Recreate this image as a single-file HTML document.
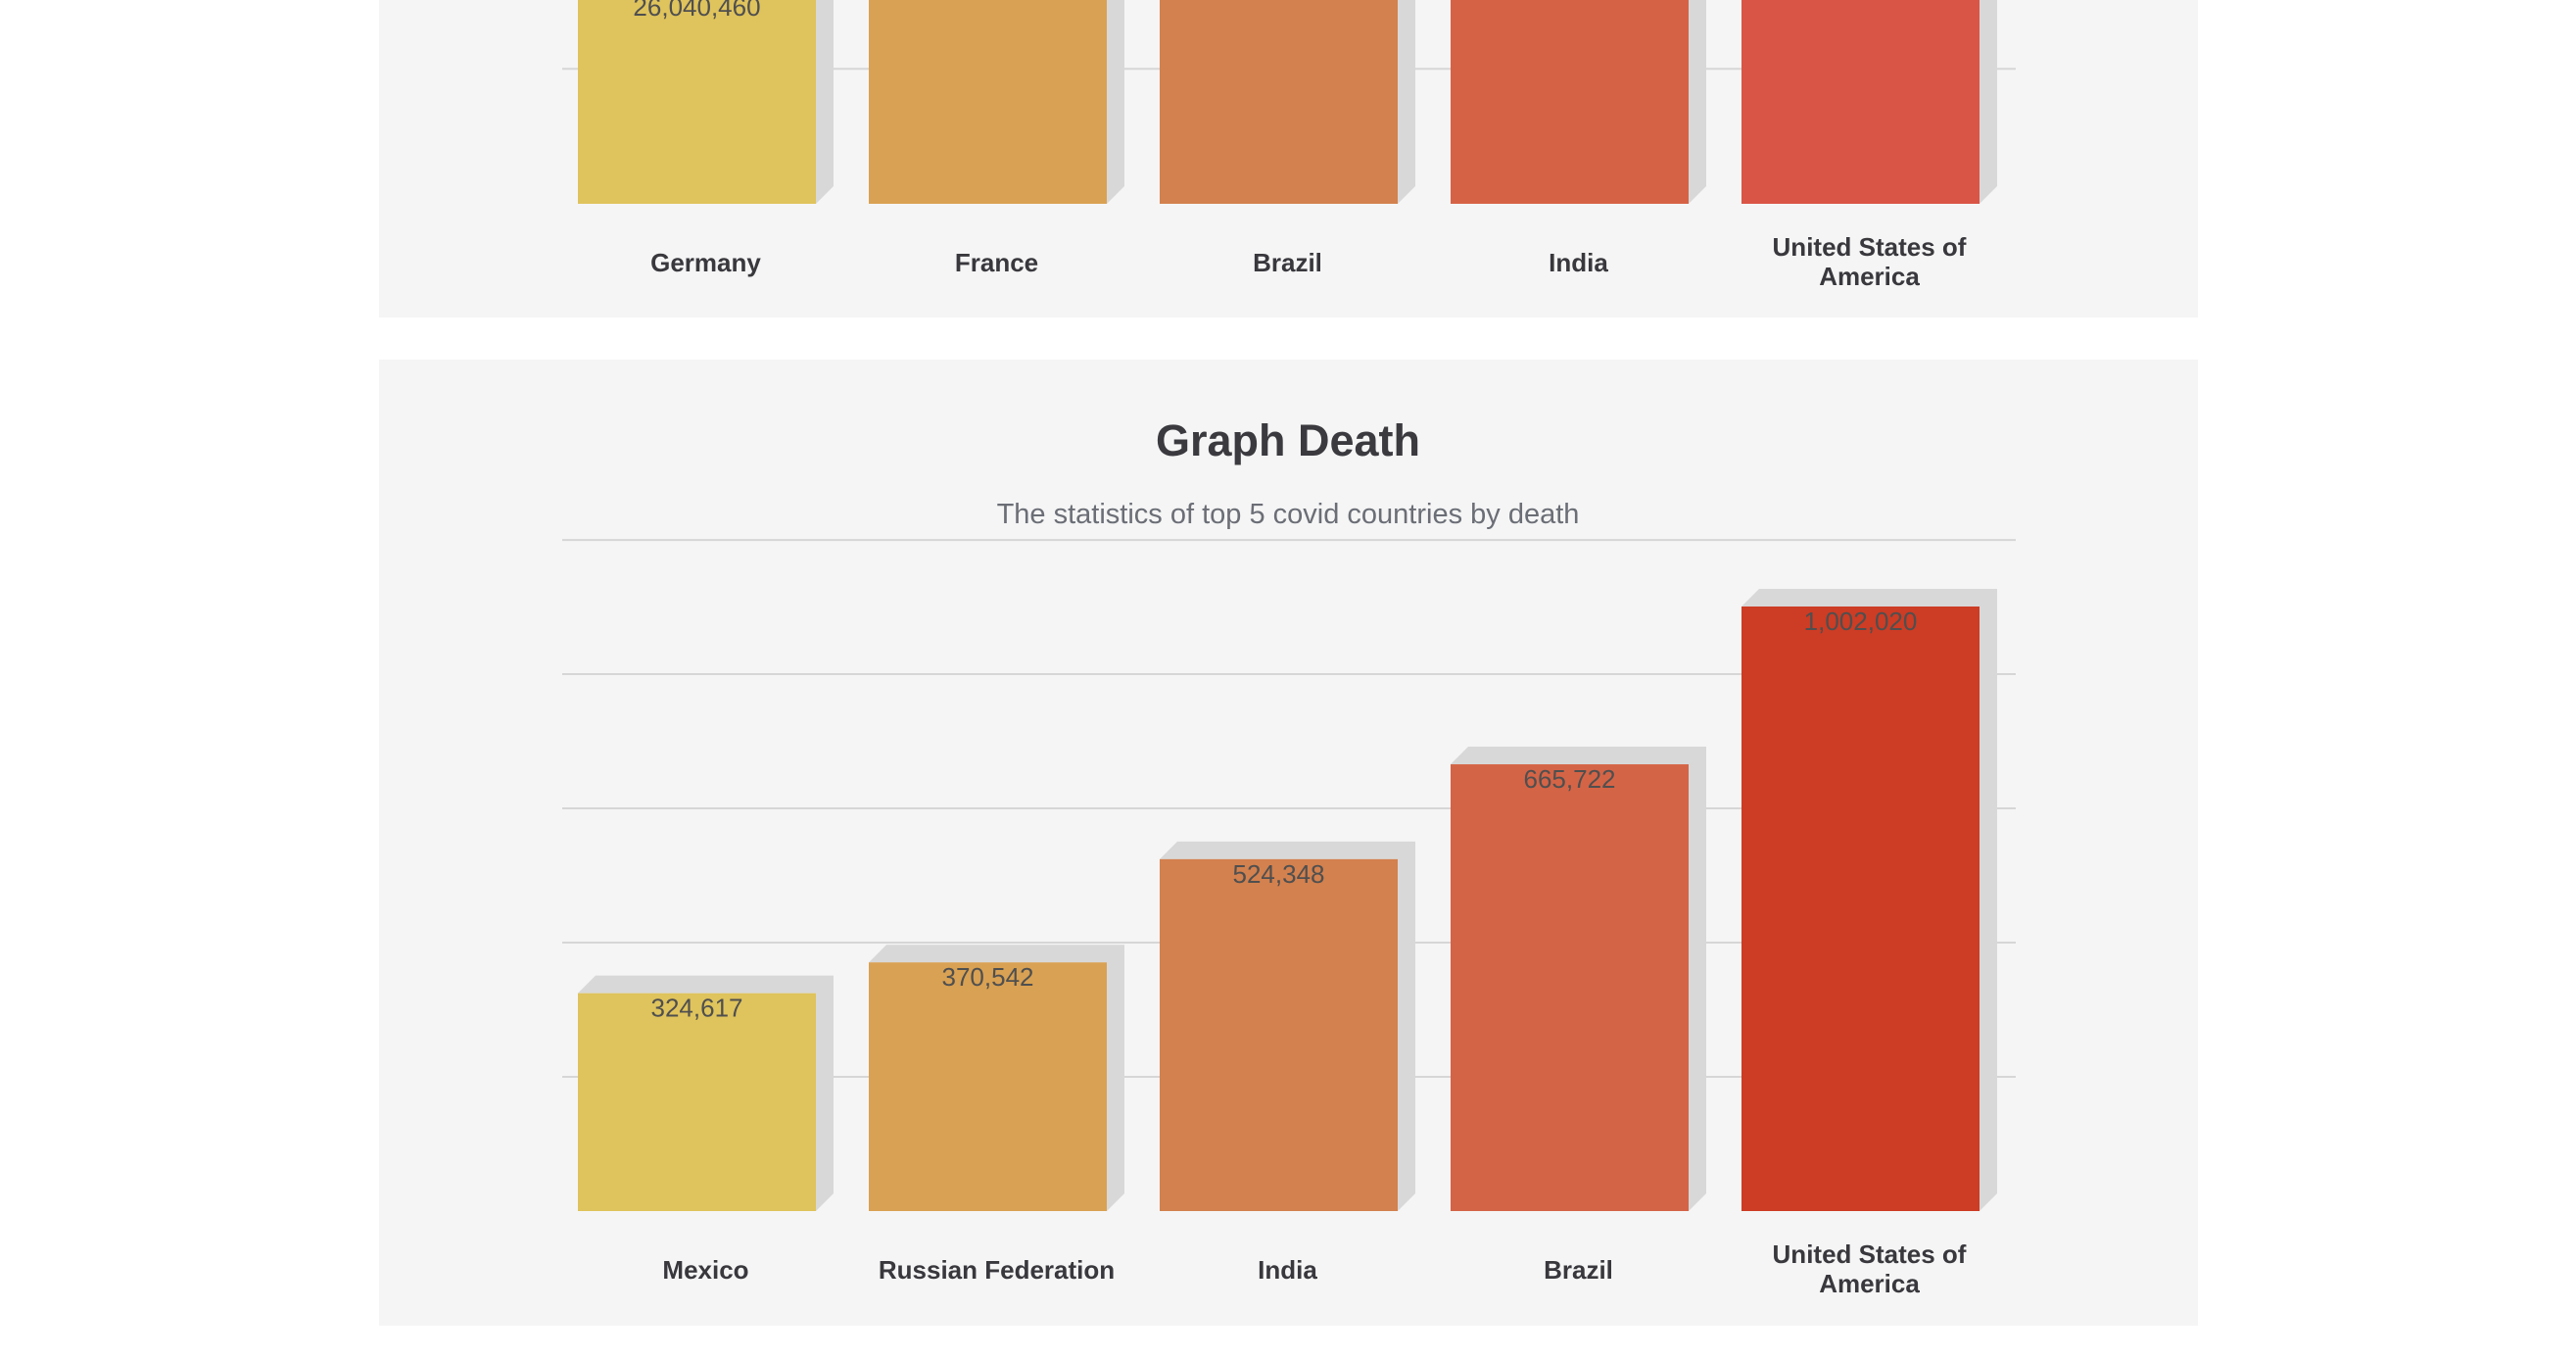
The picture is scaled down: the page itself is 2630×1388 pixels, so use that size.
<!DOCTYPE html>
<html><head><meta charset="utf-8"><style>
html,body{margin:0;padding:0;background:#fff;}
svg{display:block;font-family:"Liberation Sans",Arial,sans-serif;}
</style></head><body>
<svg id="chart" width="2630" height="1388" viewBox="0 0 2630 1388">
<rect x="387" y="-10" width="1857" height="334" fill="#f5f5f5"/>
<rect x="387" y="367" width="1857" height="986" fill="#f5f5f5"/>
<text x="1315" y="465" text-anchor="middle" font-size="45" font-weight="bold" fill="#3a3a3f">Graph Death</text>
<text x="1315" y="534" text-anchor="middle" font-size="29" fill="#6b6e76">The statistics of top 5 covid countries by death</text>
<g id="topg"></g>
<g id="botg"></g>
</svg>
<script>
const topCategories = ["Germany","France","Brazil","India","United States of America"];
const topValues = [26040460, 31000000, 33000000, 43000000, 81000000];
const topColors = ["#dfc35c","#d9a153","#d3814e","#d66245","#d95545"];
const deathCategories = ["Mexico","Russian Federation","India","Brazil","United States of America"];
const deathValues = [324617, 370542, 524348, 665722, 1002020];
const deathColors = ["#dfc35c","#d9a153","#d3814e","#d46446","#cd3c24"];
const deathTicks = [200000, 400000, 600000, 800000, 1000000];
const topTicks = [16600000];

const NS = "http://www.w3.org/2000/svg";
function mk(tag, attrs, parent){const e=document.createElementNS(NS,tag);for(const k in attrs)e.setAttribute(k,attrs[k]);parent.appendChild(e);return e;}
const x0 = 590, step = 297, bw = 243, depth = 18, gl = 574, gr = 2058;
function xPos(i){return x0 + i*step;}

function drawChart(g, cats, vals, colors, ticks, base, pxPer, name, minTop){
  const y = v => base - v/pxPer;
  ticks.forEach((t,i)=>{
    const ln = mk("line",{x1:gl,x2:gr,y1:y(t),y2:y(t),stroke:"#d6d6d6","stroke-width":2},g);
    
    
  });
  vals.forEach((v,i)=>{
    const x = xPos(i), top = Math.max(y(v), minTop);
    const sh = mk("polygon",{points:`${x},${top} ${x+depth},${top-depth} ${x+bw+depth},${top-depth} ${x+bw+depth},${base-depth} ${x+bw},${base} ${x+bw},${top}`,fill:"#d8d8d8"},g);
    
    
    const r = mk("rect",{x:x,y:top,width:bw,height:base-top,fill:colors[i]},g);
    
    
    const t = mk("text",{x:x+bw/2,y:top+24,"text-anchor":"middle","font-size":26,fill:"#4f4f4f"},g);
    t.textContent = v.toLocaleString("en-US");
    
    
    const words = cats[i]==="United States of America" ? ["United States of","America"] : [cats[i]];
    words.forEach((w,k)=>{
      const c = mk("text",{x:x+bw/2+9,y:(words.length>1? base+53+k*30 : base+69),"text-anchor":"middle","font-size":26,"font-weight":"bold",fill:"#38383d"},g);
      c.textContent = w;
      
      
    });
  });
}
drawChart(document.getElementById("botg"), deathCategories, deathValues, deathColors, deathTicks, 1236, 1460, "death", 619);
drawChart(document.getElementById("topg"), topCategories, topValues, topColors, topTicks, 208, 120500, "cases", -2000);
</script>
</body></html>
